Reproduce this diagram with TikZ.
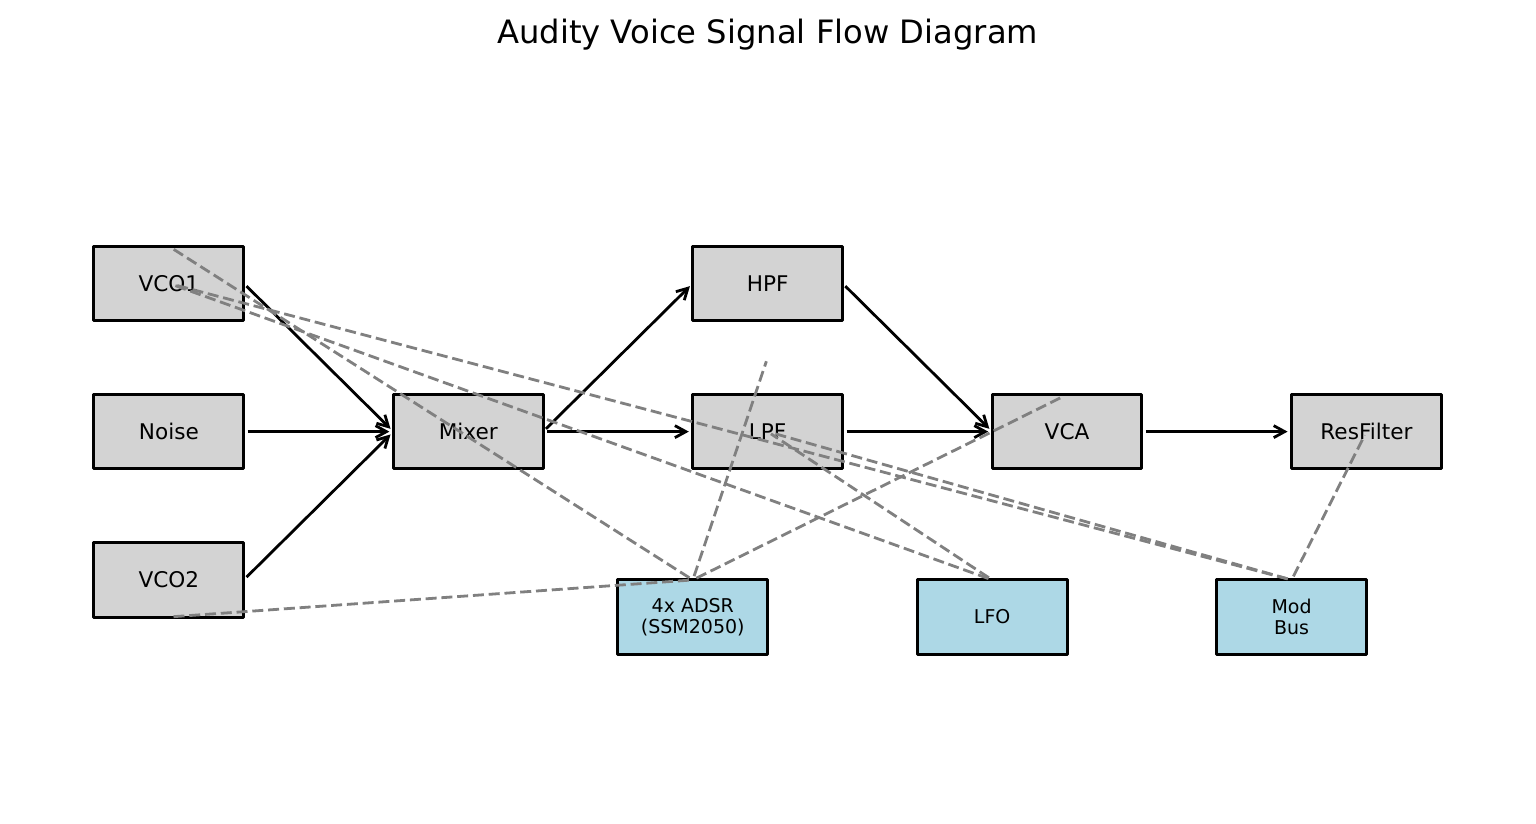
\documentclass[tikz,border=0pt]{standalone}
\usepackage{fontspec}
\setmainfont{DejaVu Sans}
\usetikzlibrary{arrows.meta}
\definecolor{blkgray}{HTML}{D3D3D3}
\definecolor{modblue}{HTML}{ADD8E6}
\definecolor{dashgray}{HTML}{808080}
\tikzset{
 blk/.style={draw=black, line width=1.5pt, fill=blkgray, minimum width=74.85pt, minimum height=37.07pt,
  inner sep=0pt, outer sep=0pt, font=\fontsize{10.8}{13}\selectfont},
 modblk/.style={blk, fill=modblue, align=center, font=\fontsize{9.5}{10.8}\selectfont},
 sig/.style={->, line width=1.4pt, shorten <=2pt, shorten >=2pt},
 modln/.style={draw=dashgray, line width=1.4pt, dash pattern=on 5.5pt off 2.4pt, shorten <=2pt, shorten >=2pt}
}
\begin{document}
\begin{tikzpicture}[x=74.85pt, y=74.15pt, >={Straight Barb[length=5.5pt,width=6pt]}, line join=round]
 \useasboundingbox (-0.6279,-1.3891) rectangle (9.6326,4.1605);
 \node[anchor=base, font=\fontsize{16.1}{19}\selectfont] (title) at (4.5,3.87) {Audity Voice Signal Flow Diagram};
 % signal path
 \node[blk] (vcoone) at (0.5,2.25) {VCO1};
 \node[blk] (noise) at (0.5,1.25) {Noise};
 \node[blk] (vcotwo) at (0.5,0.25) {VCO2};
 \node[blk] (mixer) at (2.5,1.25) {Mixer};
 \node[blk] (hpf) at (4.5,2.25) {HPF};
 \node[blk] (lpf) at (4.5,1.25) {LPF};
 \node[blk] (vca) at (6.5,1.25) {VCA};
 \node[blk] (resf) at (8.5,1.25) {ResFilter};
 % modulation sources
 \node[modblk] (adsr) at (4,0) {4x ADSR\\(SSM2050)};
 \node[modblk] (lfo) at (6,0) {LFO};
 \node[modblk] (modbus) at (8,0) {Mod\\Bus};
 \coordinate (filtmid) at (4.5,1.75);
 \foreach \a/\b in {vcoone/mixer,noise/mixer,vcotwo/mixer,mixer/hpf,mixer/lpf,hpf/vca,lpf/vca,vca/resf}
 \draw[sig] (\a.east)--(\b.west);
 \foreach \a/\b in {adsr/vcoone.north,adsr/vcotwo.south,adsr/filtmid,adsr/vca.north,
  lfo/vcoone.center,lfo/lpf.center,modbus/vcoone.center,modbus/lpf.center,modbus/resf.center}
 \draw[modln] (\a.north)--(\b);
\end{tikzpicture}
\end{document}
